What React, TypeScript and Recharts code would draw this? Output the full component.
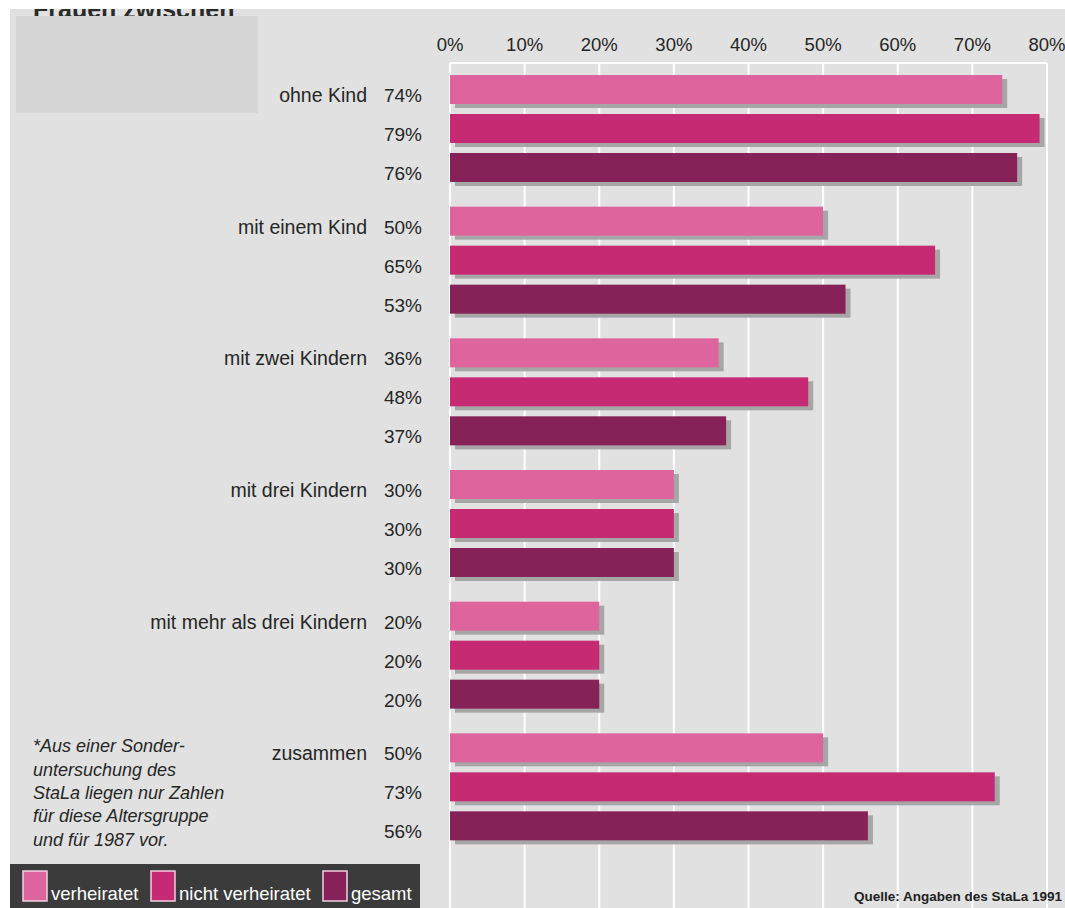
import { BarChart, Bar, XAxis, YAxis, CartesianGrid, LabelList } from "recharts"

const groups = [
  "ohne Kind",
  "mit einem Kind",
  "mit zwei Kindern",
  "mit drei Kindern",
  "mit mehr als drei Kindern",
  "zusammen"
]
const verheiratet = [74, 50, 36, 30, 20, 50]
const nichtVerheiratet = [79, 65, 48, 30, 20, 73]
const gesamt = [76, 53, 37, 30, 20, 56]

const xTicks = [0, 10, 20, 30, 40, 50, 60, 70, 80]

const seriesKeys = ["verheiratet", "nichtVerheiratet", "gesamt"]
const seriesNames = ["verheiratet", "nicht verheiratet", "gesamt"]
const seriesColors = ["#de649e", "#c62a73", "#862257"]
const legendX = [23, 151, 323]

const footnote = [
  "*Aus einer Sonder-",
  "untersuchung des",
  "StaLa liegen nur Zahlen",
  "für diese Altersgruppe",
  "und für 1987 vor."
]
const footnoteBaselines = [752, 776, 799, 822, 846]

const source = "Quelle: Angaben des StaLa 1991"
const titleFragment = "Frauen zwischen"

const data = groups.map((group, i) => ({
  group,
  verheiratet: verheiratet[i],
  nichtVerheiratet: nichtVerheiratet[i],
  gesamt: gesamt[i]
}))

const FONT = "'Liberation Sans', Arial, sans-serif"
const TEXT = "#262626"

// bar with a grey drop shadow, like the print original
const ShadowBar = (props: any) => {
  const { x, y, width, height, fill } = props
  if (!width || width <= 0) return null
  return (
    <g>
      <rect x={x + 5} y={y + 4} width={width} height={height} fill="#a6a6a6" />
      <rect x={x} y={y} width={width} height={height} fill={fill} />
    </g>
  )
}

const valueLabel = (props: any) => {
  const { x, y, height, value } = props
  return (
    <text
      x={x - 28}
      y={y + height - 2}
      textAnchor="end"
      fontFamily={FONT}
      fontSize={19}
      fill={TEXT}
    >
      {value}%
    </text>
  )
}

const groupLabel = (props: any) => {
  const { x, y, height, value } = props
  return (
    <text
      x={x - 83}
      y={y + height - 2}
      textAnchor="end"
      fontFamily={FONT}
      fontSize={19.5}
      fill={TEXT}
    >
      {value}
    </text>
  )
}

export default function App() {
  return (
    <div
      style={{
        position: "absolute",
        left: 0,
        top: 0,
        width: 1065,
        height: 908,
        background: "#ffffff",
        overflow: "hidden"
      }}
    >
      <div
        style={{
          position: "absolute",
          left: 10,
          top: 9,
          right: 0,
          bottom: 0,
          background: "#e0e1e0"
        }}
      />

      <div style={{ position: "absolute", left: 0, top: 0 }}>
        <BarChart
          width={1065}
          height={908}
          data={data}
          layout="vertical"
          margin={{ top: 23, right: 18, bottom: 0, left: 450 }}
          barSize={29}
          barGap={10}
        >
          <CartesianGrid
            stroke="#ffffff"
            strokeWidth={2}
            vertical={true}
            horizontalCoordinatesGenerator={({ offset }: any) => [offset.top]}
          />
          <XAxis
            type="number"
            orientation="top"
            domain={[0, 80]}
            ticks={xTicks}
            interval={0}
            height={40}
            axisLine={false}
            tickLine={false}
            tickSize={0}
            tickMargin={12}
            tickFormatter={(v: number) => `${v}%`}
            tick={{ fill: TEXT, fontSize: 18.5, fontFamily: FONT }}
          />
          <YAxis
            type="category"
            dataKey="group"
            hide
            padding={{ top: 0, bottom: 55 }}
          />
          {seriesKeys.map((key, i) => (
            <Bar
              key={key}
              dataKey={key}
              name={seriesNames[i]}
              fill={seriesColors[i]}
              shape={ShadowBar}
              isAnimationActive={false}
            >
              <LabelList dataKey={key} content={valueLabel} />
              {i === 0 && <LabelList dataKey="group" content={groupLabel} />}
            </Bar>
          ))}
        </BarChart>
      </div>

      <svg
        width={1065}
        height={908}
        style={{ position: "absolute", left: 0, top: 0, pointerEvents: "none" }}
      >
        {/* heading of the page, mostly cut off by the scan edge and the grey box */}
        <text x={33} y={18} fontFamily={FONT} fontSize={25} fontWeight="bold" fill="#2a2a2a">
          {titleFragment}
        </text>
        <rect x={0} y={0} width={1065} height={9} fill="#ffffff" />
        <rect x={16} y={16} width={242} height={97} fill="#d6d6d6" />

        {footnote.map((line, i) => (
          <text
            key={line}
            x={33}
            y={footnoteBaselines[i]}
            fontFamily={FONT}
            fontSize={18}
            fontStyle="italic"
            fill={TEXT}
          >
            {line}
          </text>
        ))}

        <text
          x={1062}
          y={901}
          textAnchor="end"
          fontFamily={FONT}
          fontSize={13.5}
          fontWeight="bold"
          fill="#222"
        >
          {source}
        </text>

        <rect x={10} y={864} width={410} height={44} fill="#3b3b3b" />
        {seriesNames.map((name, i) => (
          <g key={name}>
            <rect
              x={legendX[i]}
              y={871}
              width={24}
              height={30}
              fill={seriesColors[i]}
              stroke="#f2cfe0"
              strokeWidth={1.5}
            />
            <text
              x={legendX[i] + 28}
              y={900}
              fontFamily={FONT}
              fontSize={18.5}
              fill="#ffffff"
            >
              {name}
            </text>
          </g>
        ))}
      </svg>
    </div>
  )
}
